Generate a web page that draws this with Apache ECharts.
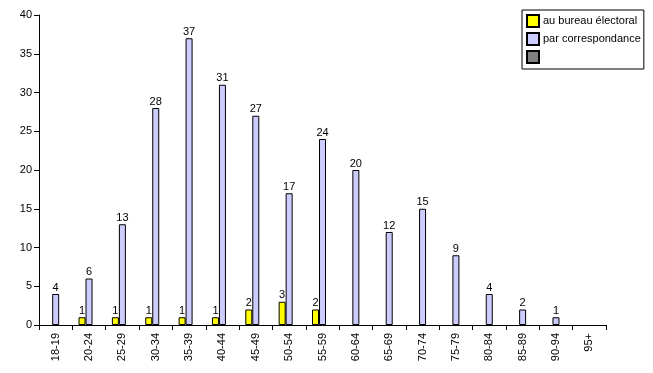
<!DOCTYPE html>
<html><head><meta charset="utf-8">
<script src="https://cdn.jsdelivr.net/npm/echarts@6/dist/echarts.min.js"></script>
<style>html,body{margin:0;padding:0;background:#fff}#c{width:653px;height:373px}</style>
</head><body><div id="c"></div>
<script>
var categories = ['18-19','20-24','25-29','30-34','35-39','40-44','45-49','50-54','55-59','60-64','65-69','70-74','75-79','80-84','85-89','90-94','95+'];
var bureau = [0,1,1,1,1,1,2,3,2,0,0,0,0,0,0,0,0];
var correspondance = [4,6,13,28,37,31,27,17,24,20,12,15,9,4,2,1,0];
var autre = [0,0,0,0,0,0,0,0,0,0,0,0,0,0,0,0,0];
var yTicks = {min:0, max:40, interval:5};

var font = 'Liberation Sans, Arial, sans-serif';
function nz(arr){ return arr.map(function(v){ return v>0 ? v : '-'; }); }
function lbl(){ return {show:true, position:'top', distance:1, color:'#000', fontFamily:font, fontSize:11}; }
var chart = echarts.init(document.getElementById('c'));
chart.setOption({
  animation:false,
  backgroundColor:'#fff',
  grid:{left:39, top:15, right:47, bottom:48, containLabel:false},
  legend:{
    orient:'vertical', left:522, top:10,
    padding:[4,3,5,4], itemGap:4, itemWidth:12, itemHeight:12,
    borderColor:'#000', borderWidth:1, backgroundColor:'#fff',
    icon:'rect',
    textStyle:{color:'#000', fontFamily:font, fontSize:11, padding:[0,0,0,-1]},
    data:['au bureau électoral','par correspondance',' ']
  },
  xAxis:{
    type:'category', data:categories,
    axisLine:{lineStyle:{color:'#000', width:1}},
    axisTick:{show:true, length:5, lineStyle:{color:'#000'}},
    axisLabel:{rotate:90, color:'#000', fontFamily:font, fontSize:11, margin:8, interval:0}
  },
  yAxis:{
    type:'value', min:yTicks.min, max:yTicks.max, interval:yTicks.interval,
    axisLine:{show:true, lineStyle:{color:'#000', width:1}},
    axisTick:{show:true, length:5, lineStyle:{color:'#000'}},
    splitLine:{show:false},
    axisLabel:{color:'#000', fontFamily:font, fontSize:11, margin:7}
  },
  series:[
    {name:'au bureau électoral', type:'bar', data:nz(bureau), barWidth:7, barGap:'0%',
     itemStyle:{color:'#ffff00', borderColor:'#000', borderWidth:1}, label:lbl()},
    {name:'par correspondance', type:'bar', data:nz(correspondance), barWidth:7, barGap:'0%',
     itemStyle:{color:'#ccccff', borderColor:'#000', borderWidth:1}, label:lbl()},
    {name:' ', type:'bar', data:nz(autre), barWidth:7, barGap:'0%',
     itemStyle:{color:'#808080', borderColor:'#000', borderWidth:1}, label:lbl()}
  ]
});
</script></body></html>
